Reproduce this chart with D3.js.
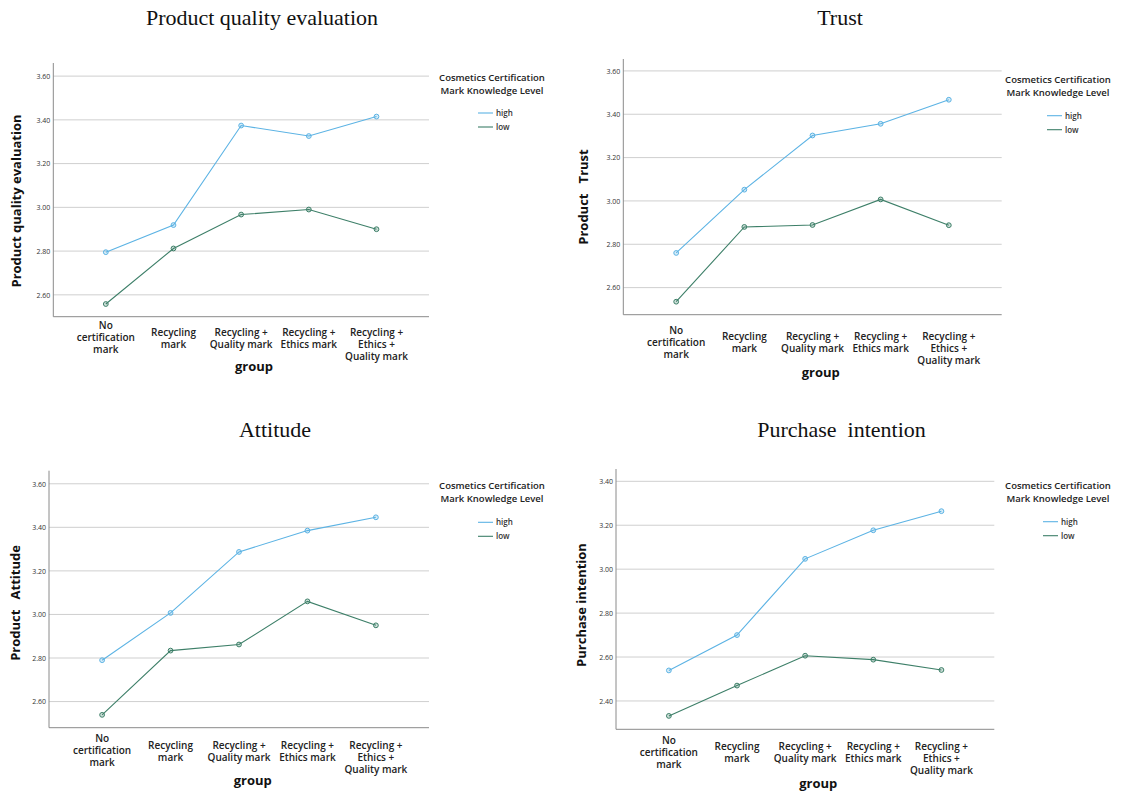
<!DOCTYPE html>
<html>
<head>
<meta charset="utf-8">
<script src="https://cdn.jsdelivr.net/npm/d3@7"></script>
<style>
  html, body { margin: 0; padding: 0; background: #fff; }
  svg { display: block; }
</style>
</head>
<body>
<svg id="chart" width="1124" height="794"></svg>
<script>
// ---------- DATA ----------
const categories = ["No certification mark", "Recycling mark", "Recycling + Quality mark", "Recycling + Ethics mark", "Recycling + Ethics + Quality mark"];
const categoryLines = [["No", "certification", "mark"], ["Recycling", "mark"], ["Recycling +", "Quality mark"], ["Recycling +", "Ethics mark"], ["Recycling +", "Ethics +", "Quality mark"]];
const seriesNames = ["high", "low"];
const legendTitle = ["Cosmetics Certification", "Mark Knowledge Level"];
const xAxisTitle = "group";

const qualityHigh = [2.795, 2.919, 3.374, 3.326, 3.415];
const qualityLow  = [2.558, 2.812, 2.967, 2.990, 2.900];
const trustHigh   = [2.760, 3.052, 3.302, 3.356, 3.467];
const trustLow    = [2.535, 2.880, 2.889, 3.007, 2.888];
const attitudeHigh = [2.790, 3.007, 3.287, 3.385, 3.446];
const attitudeLow  = [2.539, 2.834, 2.862, 3.060, 2.950];
const purchaseHigh = [2.539, 2.700, 3.047, 3.177, 3.264];
const purchaseLow  = [2.332, 2.470, 2.606, 2.588, 2.541];

const ticksA = [2.60, 2.80, 3.00, 3.20, 3.40, 3.60];
const ticksB = [2.40, 2.60, 2.80, 3.00, 3.20, 3.40];

const panelTitles = ["Product quality evaluation", "Trust", "Attitude", "Purchase  intention"];
const yAxisTitles = ["Product quality evaluation", "Product   Trust", "Product   Attitude", "Purchase intention"];

// ---------- LAYOUT ----------
const colors = { high: "#5cb3e4", low: "#3d7f68" };
const panels = [
  { title: panelTitles[0], tx: 262, ty: 25, yTitle: yAxisTitles[0], high: qualityHigh, low: qualityLow, ticks: ticksA,
    domain: [2.50, 3.66], left: 53.3, right: 429, top: 63, bottom: 316.7, ytX: 16, ytY: 201,
    labY: 332, grpX: 254, grpY: 371, legX: 492, legY: 77, legLineX: 478, legItemY: 113 },
  { title: panelTitles[1], tx: 840, ty: 25, yTitle: yAxisTitles[1], high: trustHigh, low: trustLow, ticks: ticksA,
    domain: [2.475, 3.655], left: 623.3, right: 1001.7, top: 59, bottom: 314.7, ytX: 583, ytY: 197,
    labY: 336.7, grpX: 820.7, grpY: 376.5, legX: 1058, legY: 79, legLineX: 1047, legItemY: 115.7 },
  { title: panelTitles[2], tx: 275, ty: 437, yTitle: yAxisTitles[2], high: attitudeHigh, low: attitudeLow, ticks: ticksA,
    domain: [2.48, 3.66], left: 49, right: 429, top: 470.7, bottom: 727.7, ytX: 15, ytY: 603,
    labY: 745, grpX: 252.7, grpY: 785, legX: 492, legY: 485, legLineX: 478, legItemY: 522.3 },
  { title: panelTitles[3], tx: 841.5, ty: 437, yTitle: yAxisTitles[3], high: purchaseHigh, low: purchaseLow, ticks: ticksB,
    domain: [2.271, 3.456], left: 616, right: 994.3, top: 469, bottom: 729.3, ytX: 581.7, ytY: 605,
    labY: 746.7, grpX: 818.3, grpY: 787.5, legX: 1058, legY: 485, legLineX: 1043, legItemY: 521.7 }
];

const svg = d3.select("#chart");
const sans = "'Open Sans', 'Noto Sans', sans-serif";

panels.forEach(p => {
  const g = svg.append("g");
  const x = d3.scalePoint().domain(categories).range([p.left, p.right]).padding(0.776);
  const y = d3.scaleLinear().domain(p.domain).range([p.bottom, p.top]);

  // title
  g.append("text").attr("x", p.tx).attr("y", p.ty).attr("text-anchor", "middle")
    .attr("font-family", "'Liberation Serif', 'Times New Roman', serif").attr("font-size", 22)
    .attr("fill", "#111").style("white-space", "pre").text(p.title);

  // gridlines
  g.selectAll(".grid").data(p.ticks).enter().append("line")
    .attr("x1", p.left).attr("x2", p.right)
    .attr("y1", d => y(d)).attr("y2", d => y(d))
    .attr("stroke", "#cfcfcf").attr("stroke-width", 1);

  // y axis (ticks as labels only)
  const yAxis = d3.axisLeft(y).tickValues(p.ticks).tickFormat(d3.format(".2f")).tickSize(0).tickPadding(3);
  const ya = g.append("g").attr("transform", `translate(${p.left},0)`).call(yAxis);
  ya.select(".domain").remove();
  ya.selectAll("text").attr("font-family", sans).attr("font-size", 7).attr("fill", "#333");
  g.append("line").attr("x1", p.left).attr("x2", p.left).attr("y1", p.top).attr("y2", p.bottom)
    .attr("stroke", "#8a8a8a").attr("stroke-width", 1);

  // x axis line
  const xAxis = d3.axisBottom(x).tickSize(0).tickFormat("");
  const xa = g.append("g").attr("transform", `translate(0,${p.bottom})`).call(xAxis);
  xa.select(".domain").attr("stroke", "#8a8a8a").attr("d", `M${p.left},0H${p.right}`);

  // category labels
  categories.forEach((c, i) => {
    const lines = categoryLines[i];
    const startY = i === 0 ? p.labY - 6.3 : p.labY;
    const t = g.append("text").attr("text-anchor", "middle").attr("font-family", sans)
      .attr("font-size", 10).attr("font-weight", 600).attr("fill", "#222");
    lines.forEach((ln, k) => {
      t.append("tspan").attr("x", x(c)).attr("y", startY + 12 * k + 3.5).text(ln);
    });
  });

  // axis titles
  g.append("text").attr("x", p.grpX).attr("y", p.grpY).attr("text-anchor", "middle")
    .attr("font-family", sans).attr("font-size", 13).attr("font-weight", 700).attr("fill", "#111").text(xAxisTitle);
  g.append("text").attr("transform", `translate(${p.ytX + 4.5},${p.ytY}) rotate(-90)`).attr("text-anchor", "middle")
    .attr("font-family", sans).attr("font-size", 13).attr("font-weight", 700).attr("fill", "#111")
    .style("white-space", "pre").text(p.yTitle);

  // series
  const line = d3.line().x((d, i) => x(categories[i])).y(d => y(d));
  [["high", p.high], ["low", p.low]].forEach(([name, vals]) => {
    g.append("path").datum(vals).attr("d", line).attr("fill", "none")
      .attr("stroke", colors[name]).attr("stroke-width", 1.1);
    g.selectAll(".pt-" + name).data(vals).enter().append("circle")
      .attr("cx", (d, i) => x(categories[i])).attr("cy", d => y(d)).attr("r", 2.4)
      .attr("fill", colors[name]).attr("fill-opacity", 0.25)
      .attr("stroke", colors[name]).attr("stroke-width", 1);
  });

  // legend
  legendTitle.forEach((t, k) => {
    g.append("text").attr("x", p.legX).attr("y", p.legY + 13 * k + 3.5).attr("text-anchor", "middle")
      .attr("font-family", sans).attr("font-size", 9.5).attr("font-weight", 600).attr("fill", "#222").text(t);
  });
  seriesNames.forEach((s, k) => {
    const yy = p.legItemY + 14 * k;
    g.append("line").attr("x1", p.legLineX).attr("x2", p.legLineX + 15).attr("y1", yy).attr("y2", yy)
      .attr("stroke", colors[s]).attr("stroke-width", 1.1);
    g.append("text").attr("x", p.legLineX + 18).attr("y", yy + 3).attr("font-family", sans)
      .attr("font-size", 8).attr("font-weight", 600).attr("fill", "#333").text(s);
  });
});
</script>
</body>
</html>
